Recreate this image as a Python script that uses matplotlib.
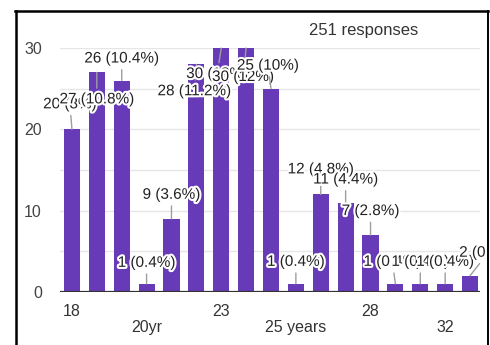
import matplotlib
matplotlib.use("Agg")
import matplotlib.pyplot as plt
import matplotlib.patheffects as pe
from matplotlib.lines import Line2D
from matplotlib.transforms import Bbox, TransformedBbox

# Age answers and response counts
ages = ["18", "19", "20", "20yr", "21", "22", "23", "24", "25", "25 years",
        "26", "27", "28", "29", "30", "32", "35"]
counts = [20, 27, 26, 1, 9, 28, 30, 30, 25, 1, 12, 11, 7, 1, 1, 1, 2]
total_responses = 251
shown_ticks = [0, 3, 6, 9, 12, 15]

# where each value label sits relative to the top of its bar (pixels)
label_offsets = [(-2, 25), (0, -27), (0, 22), (0, 21), (0, 24), (-2, -27),
                 (-4, -26), (-3, -29), (-3, 23), (0, 22), (0, 25), (0, 23),
                 (0, 24), (-3, 22), (0, 22), (0, 22), (18, 23)]

plt.rcParams["font.family"] = ["Liberation Sans", "DejaVu Sans"]

W, H = 490, 345
fig = plt.figure(figsize=(W / 100, H / 100), dpi=100)
ax = fig.add_axes([60 / W, (H - 292) / H, 420 / W, 244 / H])

x = range(len(counts))
ax.bar(x, counts, width=0.65, color="#673ab7", zorder=2)

ax.set_xlim(-0.48, 16.4)
ax.set_ylim(0, 30)
ax.set_yticks([0, 10, 20, 30])
ax.set_yticks([5, 15, 25], minor=True)
ax.grid(axis="y", which="both", color="#e6e6e6", lw=1, zorder=0)
ax.axhline(0, color="#333333", lw=1.6, zorder=3)
for s in ax.spines.values():
    s.set_visible(False)
ax.tick_params(axis="y", length=0, pad=13, labelsize=11.5, labelcolor="#444444")
ax.tick_params(axis="y", which="minor", length=0)

# every third answer is labelled, alternating between two rows
ax.set_xticks(shown_ticks)
ax.set_xticklabels([ages[i] if k % 2 == 0 else "\n" + ages[i]
                    for k, i in enumerate(shown_ticks)])
ax.tick_params(axis="x", length=0, pad=9, labelsize=11.5, labelcolor="#333333")
for t in ax.get_xticklabels():
    t.set_linespacing(1.05)

clip = TransformedBbox(Bbox([[0, 0], [486 / W, 1]]), fig.transFigure)
halo = [pe.withStroke(linewidth=3, foreground="white")]
for i, v in enumerate(counts):
    pct = f"{100 * v / total_responses:.1f}".rstrip("0").rstrip(".")
    dx, dy = label_offsets[i]
    ann = ax.annotate(f"{v} ({pct}%)", xy=(i, v), xytext=(dx * 0.72, dy * 0.72),
                      textcoords="offset points", ha="center", va="center",
                      fontsize=11, color="#222222", annotation_clip=False,
                      path_effects=halo, zorder=4,
                      arrowprops=dict(arrowstyle="-", color="#9e9e9e", lw=1,
                                      shrinkA=1, shrinkB=0))
    ann.set_clip_box(clip)
    ann.set_clip_on(True)

fig.text(364 / W, 1 - 31 / H, f"{total_responses} responses", ha="center",
         va="center", fontsize=12, color="#333333")

# frame around the card
fig.add_artist(Line2D([16 / W, 16 / W], [0, 1 - 11 / H], color="black", lw=1.8))
fig.add_artist(Line2D([15 / W, 488 / W], [1 - 11 / H, 1 - 11 / H], color="black", lw=1.8))
fig.add_artist(Line2D([487.5 / W, 487.5 / W], [0, 1 - 11 / H], color="black", lw=1.4))

fig.savefig("out.png", dpi=100)
